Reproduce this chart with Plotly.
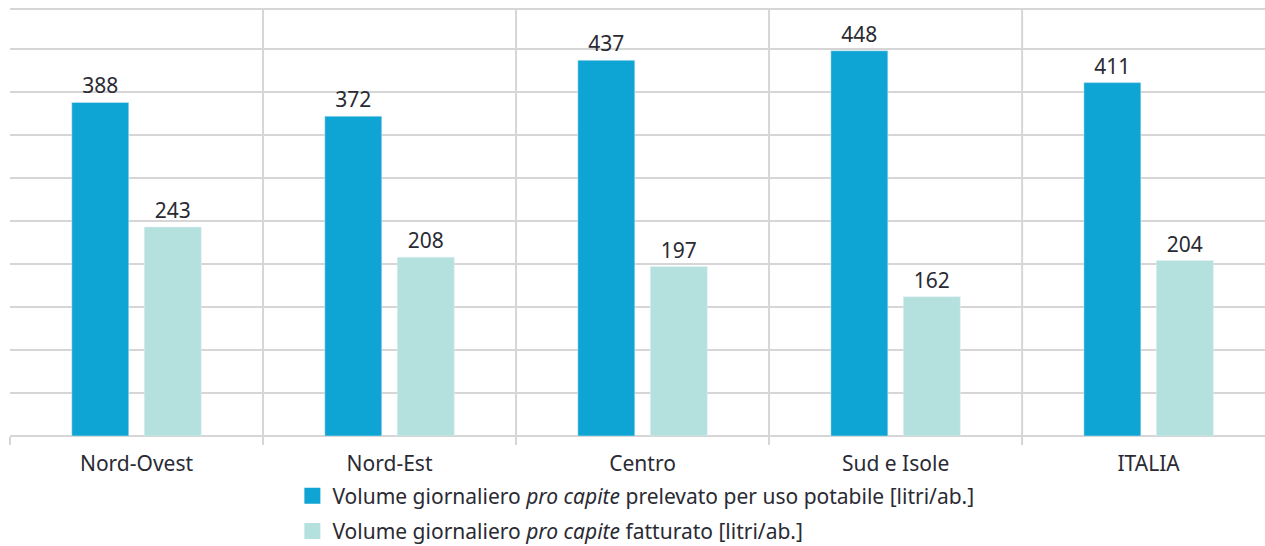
import plotly.graph_objects as go

categories = ["Nord-Ovest", "Nord-Est", "Centro", "Sud e Isole", "ITALIA"]
prelevato = [388, 372, 437, 448, 411]
fatturato = [243, 208, 197, 162, 204]
name_prelevato = "Volume giornaliero <i>pro capite</i> prelevato per uso potabile [litri/ab.]"
name_fatturato = "Volume giornaliero <i>pro capite</i> fatturato [litri/ab.]"

DARK = "#0ea4d4"
LIGHT = "#b4e1de"
GRID = "#d6d6d6"
TXT = "#2a2a33"
FONT = "Noto Sans"
FS = 21

fig = go.Figure()
fig.add_trace(go.Bar(x=categories, y=prelevato, marker_color=DARK, showlegend=False,
                     text=prelevato, textposition="outside", cliponaxis=False,
                     textfont=dict(size=FS, color=TXT, family=FONT)))
fig.add_trace(go.Bar(x=categories, y=fatturato, marker_color=LIGHT, showlegend=False,
                     text=fatturato, textposition="outside", cliponaxis=False,
                     textfont=dict(size=FS, color=TXT, family=FONT)))
# legend entries with larger square swatches
fig.add_trace(go.Scatter(x=[None], y=[None], mode="markers", name=name_prelevato,
                         marker=dict(symbol="square", size=18, color=DARK), legendgroup="a"))
fig.add_trace(go.Scatter(x=[None], y=[None], mode="markers", name=name_fatturato,
                         marker=dict(symbol="square", size=18, color=LIGHT), legendgroup="b"))

# vertical separators between categories
for i in range(len(categories) - 1):
    fig.add_shape(type="line", xref="x", yref="paper", x0=i + 0.5, x1=i + 0.5,
                  y0=-0.02, y1=1, line=dict(color=GRID, width=2), layer="below")
fig.add_shape(type="line", xref="paper", yref="paper", x0=0, x1=1, y0=1, y1=1,
              line=dict(color=GRID, width=2), layer="below")

fig.update_layout(
    width=1265, height=546,
    margin=dict(l=10, r=0, t=9, b=110, autoexpand=False),
    paper_bgcolor="white", plot_bgcolor="white",
    barmode="group", bargap=0.427, bargroupgap=0.214,
    font=dict(family=FONT, size=FS, color=TXT),
    xaxis=dict(range=[-0.5, 4.46], showgrid=False, showline=False, ticks="outside",
               tickson="boundaries", ticklen=8, tickwidth=2, tickcolor=GRID,
               ticklabelstandoff=13,
               tickfont=dict(size=FS, color=TXT, family=FONT)),
    yaxis=dict(range=[0, 496.6], dtick=50, showgrid=True, gridcolor=GRID, gridwidth=2,
               showticklabels=False, zeroline=True, zerolinecolor=GRID, zerolinewidth=2,
               ticks=""),
    legend=dict(x=0.225, y=0.129, xref="paper", yref="container",
                xanchor="left", yanchor="top",
                traceorder="grouped", tracegroupgap=5,
                font=dict(size=FS, color=TXT, family=FONT),
                itemsizing="trace", bgcolor="rgba(0,0,0,0)"),
)

fig.write_html("out.html")
